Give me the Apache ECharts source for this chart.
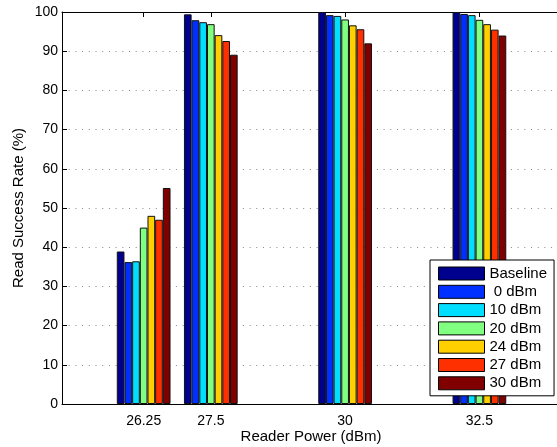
<!DOCTYPE html>
<html>
<head>
<meta charset="utf-8">
<script src="https://cdn.jsdelivr.net/npm/echarts@6/dist/echarts.min.js"></script>
<style>
html,body{margin:0;padding:0;background:#fff;}
#chart{width:557px;height:447px;}
</style>
</head>
<body>
<div id="chart"></div>
<script>
var powers = [26.25, 27.5, 30, 32.5];
var xTicks = [26.25, 27.5, 30, 32.5];
var seriesNames = ['Baseline', ' 0 dBm', '10 dBm', '20 dBm', '24 dBm', '27 dBm', '30 dBm'];
var seriesColors = ['#00008F', '#0030FF', '#00DFFF', '#80FF80', '#FFCF00', '#FF3000', '#800000'];
var baseline = [38.9, 99.4, 100, 100];
var dbm0 = [36.2, 97.9, 99.2, 99.5];
var dbm10 = [36.4, 97.4, 99.0, 99.2];
var dbm20 = [45.0, 96.9, 98.1, 98.0];
var dbm24 = [48.0, 94.1, 96.6, 96.9];
var dbm27 = [47.0, 92.6, 95.6, 95.5];
var dbm30 = [55.1, 89.1, 92.0, 94.0];
var allValues = [baseline, dbm0, dbm10, dbm20, dbm24, dbm27, dbm30];

var FONT = '"Liberation Sans", Arial, Helvetica, sans-serif';
var xMin = 24.73, xMax = 34;
var gridLeft = 62, gridWidth = 498;
var pxPerUnit = gridWidth / (xMax - xMin);
var barW = pxPerUnit * 1.0 / seriesNames.length;

var chart = echarts.init(document.getElementById('chart'), null, {renderer: 'canvas'});

var series = seriesNames.map(function (name, i) {
  return {
    name: name,
    type: 'bar',
    xAxisIndex: 0,
    yAxisIndex: 0,
    barWidth: barW,
    barGap: '0%',
    data: powers.map(function (p, j) { return [p, allValues[i][j]]; }),
    itemStyle: {color: seriesColors[i], borderColor: '#111', borderWidth: 1},
    emphasis: {disabled: true},
    animation: false
  };
});

var option = {
  animation: false,
  grid: {left: gridLeft, top: 12, width: gridWidth, height: 392, containLabel: false, outerBoundsMode: 'none'},
  legend: {
    orient: 'vertical',
    left: 430,
    top: 260,
    data: seriesNames,
    backgroundColor: '#fff',
    borderColor: '#000',
    borderWidth: 1,
    borderRadius: 0,
    padding: [6, 7, 5, 8],
    itemWidth: 46,
    itemHeight: 13,
    itemGap: 3.3,
    icon: 'rect',
    itemStyle: {borderColor: '#000', borderWidth: 1},
    textStyle: {fontFamily: FONT, fontSize: 15, color: '#000'},
    selectedMode: false
  },
  xAxis: [{
    type: 'value',
    min: xMin,
    max: xMax,
    position: 'bottom',
    name: 'Reader Power (dBm)',
    nameLocation: 'middle',
    nameGap: 25,
    nameMoveOverlap: false,
    nameTextStyle: {fontFamily: FONT, fontSize: 15, color: '#000'},
    axisLine: {show: true, onZero: false, lineStyle: {color: '#000', width: 1}},
    axisTick: {show: true, inside: true, length: 5, customValues: xTicks, lineStyle: {color: '#000'}},
    axisLabel: {show: true, customValues: xTicks, margin: 10, fontFamily: FONT, fontSize: 14, color: '#000',
      formatter: function (v) { return String(v); }},
    splitLine: {show: false}
  }, {
    type: 'value',
    min: xMin,
    max: xMax,
    position: 'top',
    axisLine: {show: true, onZero: false, lineStyle: {color: '#000', width: 1}},
    axisTick: {show: true, inside: true, length: 5, customValues: xTicks, lineStyle: {color: '#000'}},
    axisLabel: {show: false},
    splitLine: {show: false}
  }],
  yAxis: [{
    type: 'value',
    min: 0,
    max: 100,
    interval: 10,
    name: 'Read Success Rate (%)',
    nameLocation: 'middle',
    nameGap: 36,
    nameMoveOverlap: false,
    nameTextStyle: {fontFamily: FONT, fontSize: 15, color: '#000'},
    axisLine: {show: true, onZero: false, lineStyle: {color: '#000', width: 1}},
    axisTick: {show: true, inside: true, length: 5, lineStyle: {color: '#000'}},
    axisLabel: {margin: 4, fontFamily: FONT, fontSize: 14, color: '#000'},
    splitLine: {show: true, lineStyle: {color: '#888', width: 1, type: [1, 5.7]}}
  }],
  series: series
};
chart.setOption(option);
</script>
</body>
</html>
